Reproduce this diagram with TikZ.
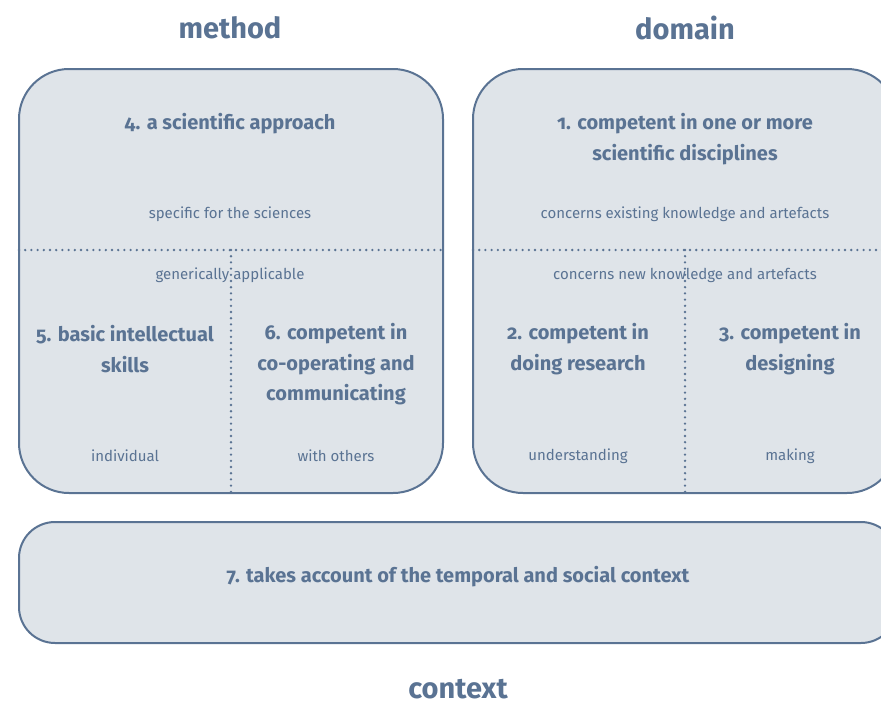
\documentclass[tikz,border=0pt]{standalone}
\usepackage{fontspec}
\setmainfont[RawFeature=+onum]{Fira Sans}
\definecolor{ink}{HTML}{5A7393}
\definecolor{pane}{HTML}{DFE4E9}
\begin{document}
\begin{tikzpicture}[x=1pt,y=-1pt,
  box/.style={draw=ink,fill=pane,line width=2pt},
  sep/.style={draw=ink,line width=2.6pt,line cap=round,dash pattern=on 0pt off 6.2pt},
  title/.style={text=ink,inner sep=0pt,font=\fontsize{29}{31}\selectfont\bfseries},
  head/.style={text=ink,font=\fontsize{20}{30.5}\selectfont\bfseries,align=center},
  note/.style={text=ink,font=\fontsize{15}{17}\selectfont}]
\useasboundingbox (0,0) rectangle (881,704);
\clip (0,0) rectangle (881,704);
% boxes
\draw[box,rounded corners=50pt] (19,69) rectangle (443,493);
\draw[box,rounded corners=50pt] (473,69) rectangle (897,493);
\draw[box,rounded corners=36pt] (19,522) rectangle (897,643);
% separators
\coordinate (lh1) at (19,250); \coordinate (lh2) at (443,250);
\coordinate (lv1) at (231,250); \coordinate (lv2) at (231,492);
\coordinate (rh1) at (473,250); \coordinate (rh2) at (897,250);
\coordinate (rv1) at (685,250); \coordinate (rv2) at (685,492);
\draw[sep] (lh1) -- (lh2);
\draw[sep] (lv1) -- (lv2);
\draw[sep] (rh1) -- (rh2);
\draw[sep] (rv1) -- (rv2);
% titles
\node[title] (tm) at (230,28) {method};
\node[title] (td) at (685,28) {domain};
\node[title] (tc) at (458,689) {context};
% left box
\node[head] (c4) at (230,124) {4. a scientific approach};
\node[note] (n1) at (230,214) {specific for the sciences};
\node[note] (n2) at (230,275) {generically applicable};
\node[head] (c5) at (125,349) {5. basic intellectual\\skills};
\node[head] (c6) at (336,364.5) {6. competent in\\co-operating and\\communicating};
\node[note] (n3) at (125,456) {individual};
\node[note] (n4) at (336,456) {with others};
% right box
\node[head] (c1) at (685,139) {1. competent in one or more\\scientific disciplines};
\node[note] (n5) at (685,214) {concerns existing knowledge and artefacts};
\node[note] (n6) at (685,275) {concerns new knowledge and artefacts};
\node[head] (c2) at (578,349) {2. competent in\\doing research};
\node[head] (c3) at (790,349) {3. competent in\\designing};
\node[note] (n7) at (578,456) {understanding};
\node[note] (n8) at (790,456) {making};
% bottom
\node[head] (c7) at (458,577) {7. takes account of the temporal and social context};
\end{tikzpicture}
\end{document}
